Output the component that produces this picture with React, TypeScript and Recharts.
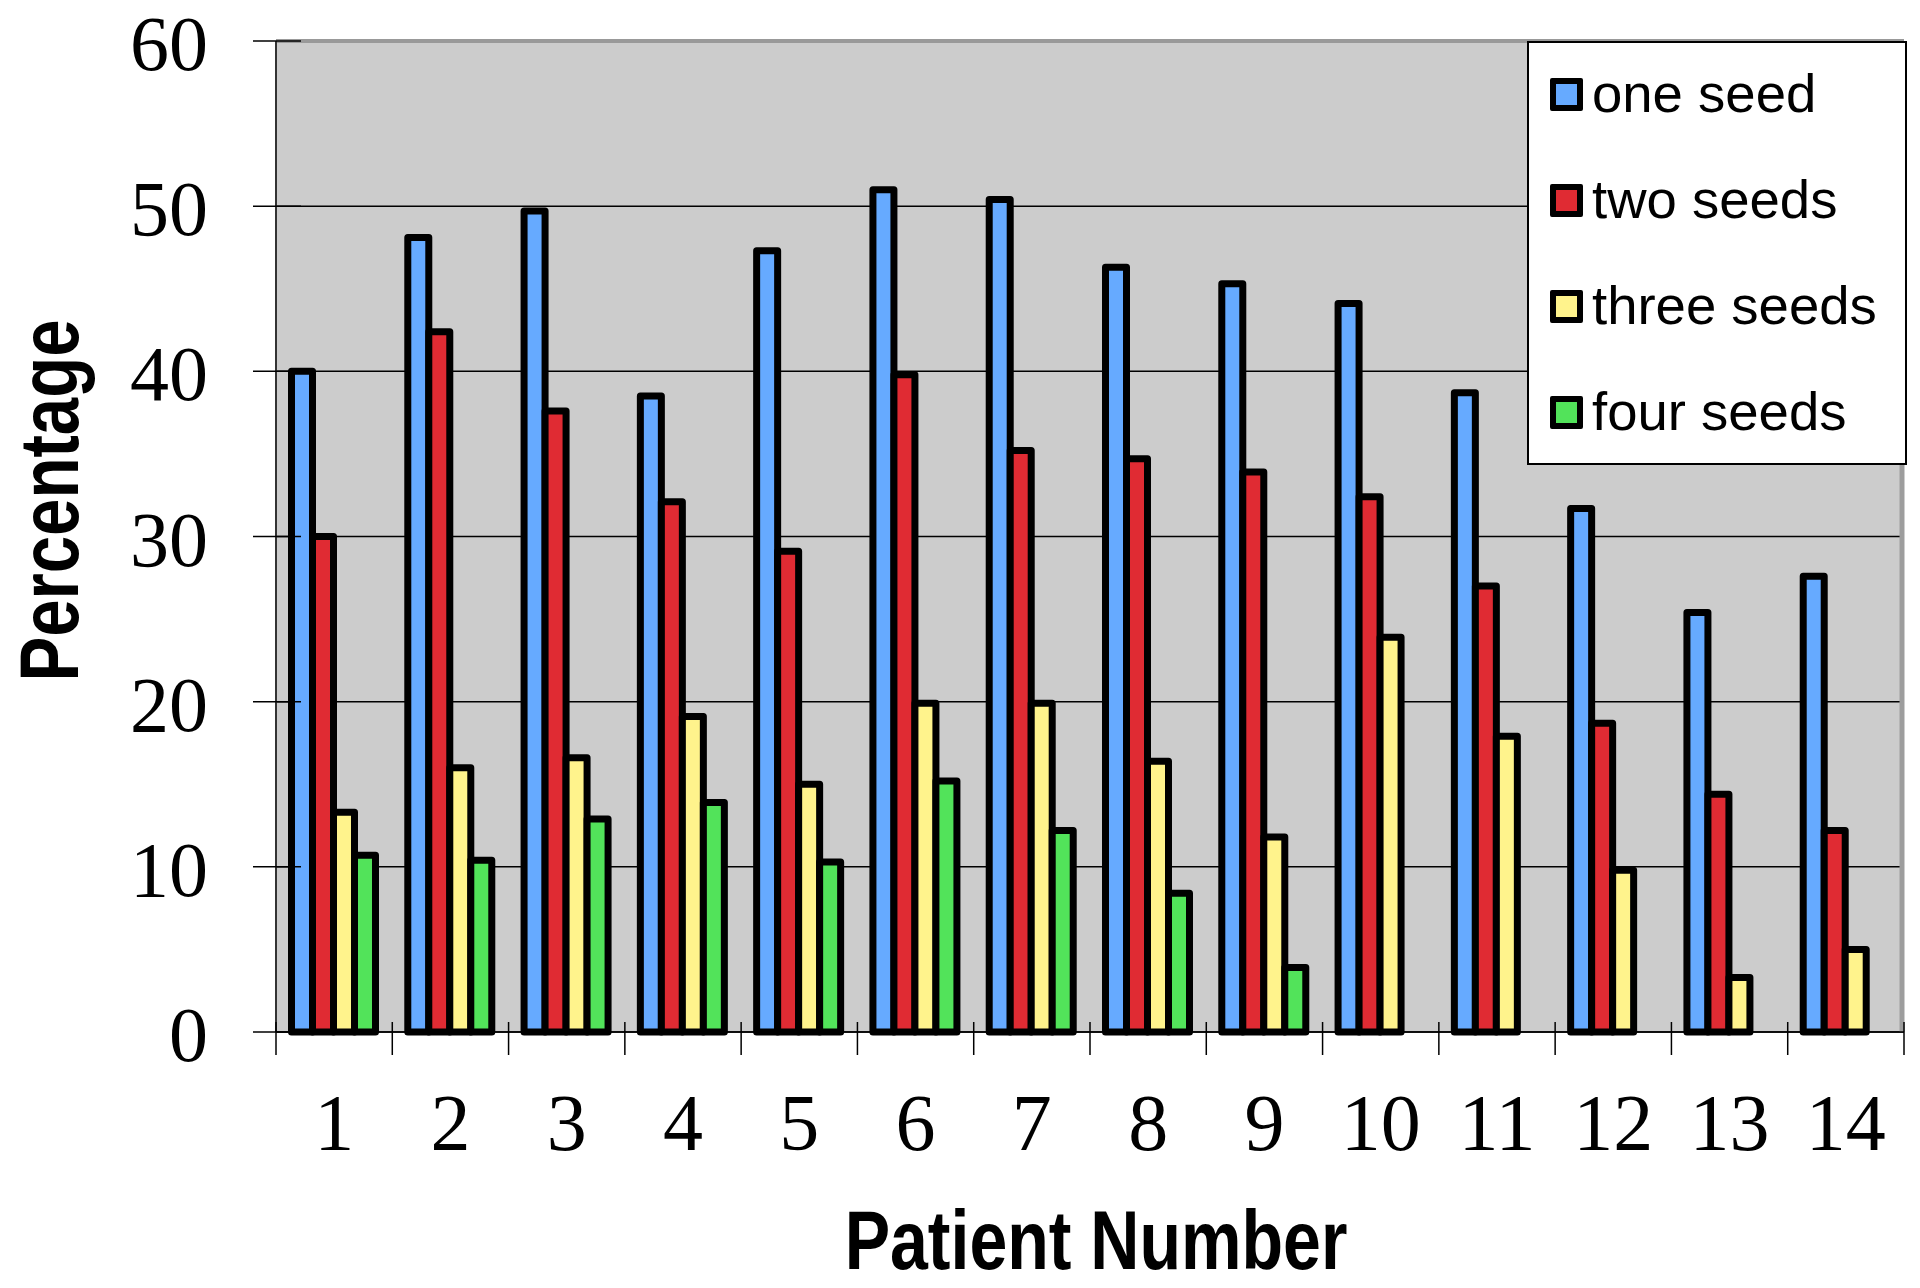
import { BarChart, Bar, XAxis, YAxis, CartesianGrid, Legend, Label, ReferenceLine } from 'recharts';

const patients = ['1', '2', '3', '4', '5', '6', '7', '8', '9', '10', '11', '12', '13', '14'];
const oneSeed = [40.0, 48.1, 49.7, 38.5, 47.3, 51.0, 50.4, 46.3, 45.3, 44.1, 38.7, 31.7, 25.4, 27.6];
const twoSeeds = [30.0, 42.4, 37.6, 32.1, 29.1, 39.8, 35.2, 34.7, 33.9, 32.4, 27.0, 18.7, 14.4, 12.2];
const threeSeeds = [13.3, 16.0, 16.6, 19.1, 15.0, 19.9, 19.9, 16.4, 11.8, 23.9, 17.9, 9.8, 3.3, 5.0];
const fourSeeds = [10.7, 10.4, 12.9, 13.9, 10.3, 15.2, 12.2, 8.4, 3.9, null, null, null, null, null];
const seriesNames = ['one seed', 'two seeds', 'three seeds', 'four seeds'];
const yTicks = [0, 10, 20, 30, 40, 50, 60];

const chartData = patients.map((p, i) => ({
  patient: p,
  one: oneSeed[i],
  two: twoSeeds[i],
  three: threeSeeds[i],
  four: fourSeeds[i],
}));

const SERIF = '"Liberation Serif", "Times New Roman", serif';
const SANS = '"Liberation Sans", Arial, sans-serif';

function YTick(props: any) {
  const { x, y, payload } = props;
  return (
    <g>
      <line x1={x - 23} x2={x + 25} y1={y} y2={y} stroke="#000" strokeWidth={1.5} />
      <text x={x - 68} y={y + 29} textAnchor="end" fontFamily={SERIF} fontSize={78} fill="#000">
        {payload.value}
      </text>
    </g>
  );
}

function XTick(props: any) {
  const { x, y, payload, index } = props;
  const half = payload.offset ?? 58;
  return (
    <g>
      <line x1={x - half} x2={x - half} y1={y - 10} y2={y + 23} stroke="#000" strokeWidth={1.5} />
      {index === patients.length - 1 && (
        <line x1={x + half} x2={x + half} y1={y - 10} y2={y + 23} stroke="#000" strokeWidth={1.5} />
      )}
      <text x={x} y={y + 118} textAnchor="middle" fontFamily={SERIF} fontSize={80} fill="#000">
        {payload.value}
      </text>
    </g>
  );
}

// bold condensed titles: Liberation Sans Bold squeezed horizontally
function XTitle(props: any) {
  const vb = props.viewBox || { x: 276, y: 1032, width: 1628 };
  const cx = vb.x + vb.width / 2 + 6;
  const cy = vb.y + 237;
  return (
    <g transform={`translate(${cx}, ${cy}) scale(0.81, 1)`}>
      <text x={0} y={0} textAnchor="middle" fontFamily={SANS} fontWeight="bold" fontSize={84} fill="#000">
        Patient Number
      </text>
    </g>
  );
}

function YTitle(props: any) {
  const vb = props.viewBox || { x: 0, y: 41, height: 991 };
  const cx = vb.x + 78;
  const cy = vb.y + vb.height / 2 - 36;
  return (
    <g transform={`translate(${cx}, ${cy}) rotate(-90) scale(0.80, 1)`}>
      <text x={0} y={0} textAnchor="middle" fontFamily={SANS} fontWeight="bold" fontSize={84} fill="#000">
        Percentage
      </text>
    </g>
  );
}

function LegendBox(props: any) {
  const items = [...(props.payload || [])].sort(
    (a: any, b: any) => seriesNames.indexOf(a.value) - seriesNames.indexOf(b.value)
  );
  return (
    <div
      style={{
        boxSizing: 'border-box',
        width: 380,
        height: 424,
        background: '#fff',
        border: '2px solid #000',
        fontFamily: SANS,
      }}
    >
      <div style={{ height: 0, marginTop: -2 }} />
      {items.map((entry: any) => (
        <div key={entry.value} style={{ height: 106, display: 'flex', alignItems: 'center', paddingLeft: 21 }}>
          <div
            style={{
              width: 21,
              height: 21,
              border: '6px solid #000',
              background: entry.color,
              borderRadius: 2,
              flex: 'none',
            }}
          />
          <span style={{ marginLeft: 9, fontSize: 54.5, color: '#000', lineHeight: 1, whiteSpace: 'nowrap' }}>
            {entry.value}
          </span>
        </div>
      ))}
    </div>
  );
}

export default function App() {
  const barStyle = { stroke: '#000', strokeWidth: 7, strokeLinejoin: 'round' as const };
  return (
    <div style={{ position: 'absolute', left: 0, top: 0, width: 1920, height: 1288, background: '#fff' }}>
      <BarChart
        width={1920}
        height={1288}
        data={chartData}
        margin={{ top: 41, right: 16, bottom: 0, left: 0 }}
        barCategoryGap={15.5}
        barGap={0}
      >
        <CartesianGrid fill="#cccccc" stroke="#000" strokeWidth={1.5} vertical={false} />
        <CartesianGrid
          fill="none"
          horizontal={false}
          verticalPoints={[1902]}
          stroke="#9d9d9d"
          strokeWidth={5}
        />
        <XAxis
          dataKey="patient"
          type="category"
          interval={0}
          height={256}
          tickSize={0}
          tickMargin={0}
          tickLine={false}
          axisLine={{ stroke: '#000', strokeWidth: 1.5 }}
          tick={<XTick />}
        >
          <Label content={<XTitle />} />
        </XAxis>
        <YAxis
          type="number"
          domain={[0, 60]}
          ticks={yTicks}
          width={276}
          tickSize={0}
          tickMargin={0}
          tickLine={false}
          axisLine={{ stroke: '#333', strokeWidth: 2 }}
          tick={<YTick />}
        >
          <Label content={<YTitle />} />
        </YAxis>
        <ReferenceLine y={60} stroke="#999" strokeWidth={4} />
        <Legend
          layout="vertical"
          align="center"
          verticalAlign="middle"
          itemSorter={null}
          content={<LegendBox />}
          wrapperStyle={{ left: 1527, top: 41, width: 380, height: 424 }}
        />
        <Bar dataKey="one" name="one seed" fill="#66aaff" {...barStyle} isAnimationActive={false} />
        <Bar dataKey="two" name="two seeds" fill="#e02b33" {...barStyle} isAnimationActive={false} />
        <Bar dataKey="three" name="three seeds" fill="#fff38c" {...barStyle} isAnimationActive={false} />
        <Bar dataKey="four" name="four seeds" fill="#52e35a" {...barStyle} isAnimationActive={false} />
      </BarChart>
    </div>
  );
}
